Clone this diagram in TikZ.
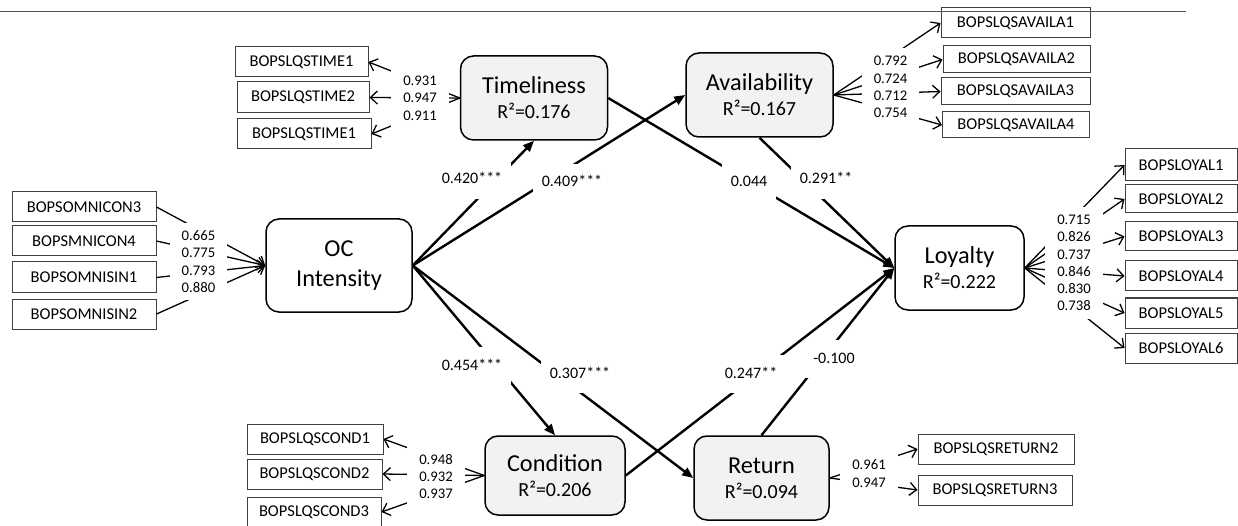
\documentclass[tikz,border=0pt]{standalone}
\usepackage{fontspec}
\setmainfont{Carlito}
\usetikzlibrary{arrows.meta}
\definecolor{latentfill}{RGB}{242,242,242}
\definecolor{boxline}{RGB}{64,64,64}
\definecolor{ruleline}{RGB}{80,80,80}
\begin{document}
\begin{tikzpicture}[x=1pt,y=-1pt,
  construct/.style={draw=black,line width=1.5pt,rounded corners=13pt,align=center,inner sep=0pt,fill=white},
  shaded/.style={fill=latentfill},
  big/.style={font=\fontsize{24.3}{25}\selectfont},
  ind/.style={draw=boxline,line width=1pt,fill=white,inner sep=0pt,minimum height=30pt,font=\fontsize{16.5}{18}\selectfont},
  pathedge/.style={line width=2.4pt,-{Triangle[length=11pt,width=9pt]}},
  loadedge/.style={line width=1.3pt,-{Straight Barb[length=7pt,width=13pt]}},
  coef/.style={fill=white,font=\fontsize{16}{18}\selectfont,text height=12pt,text depth=4pt,inner xsep=9pt,inner ysep=11pt},
  loads/.style={fill=white,align=center,font=\fontsize{14.7}{17.3}\selectfont,inner xsep=12pt,inner ysep=8pt}
]
\useasboundingbox (0,0) rectangle (1238,526);

% latent constructs
\node[construct,shaded,big,minimum width=147pt,minimum height=84pt] (T) at (534,98)
  {Timeliness\\{\fontsize{20}{25}\selectfont R²=0.176}};
\node[construct,shaded,big,minimum width=147pt,minimum height=84pt] (A) at (759.5,95)
  {Availability\\{\fontsize{20}{25}\selectfont R²=0.167}};
\node[construct,minimum width=146pt,minimum height=93pt,font=\fontsize{24.3}{30}\selectfont] (OC) at (339,265.5)
  {OC\\Intensity};
\node[construct,big,minimum width=129pt,minimum height=84pt] (L) at (959.5,268)
  {Loyalty\\{\fontsize{20}{25}\selectfont R²=0.222}};
\node[construct,shaded,big,minimum width=140pt,minimum height=79pt] (C) at (555,475.5)
  {Condition\\{\fontsize{20}{25}\selectfont R²=0.206}};
\node[construct,shaded,big,minimum width=135pt,minimum height=84pt] (R) at (761.5,478)
  {Return\\{\fontsize{20}{25}\selectfont R²=0.094}};

% indicators of Timeliness
\node[ind,minimum width=133pt] (t1) at (301.5,62) {BOPSLQSTIME1};
\node[ind,minimum width=132pt,minimum height=31pt] (t2) at (303,97.5) {BOPSLQSTIME2};
\node[ind,minimum width=134pt] (t3) at (304,134) {BOPSLQSTIME1};

% indicators of Availability
\node[ind,minimum width=149pt] (a1) at (1015.5,23) {BOPSLQSAVAILA1};
\node[ind,minimum width=147pt,minimum height=27pt] (a2) at (1016.5,59.5) {BOPSLQSAVAILA2};
\node[ind,minimum width=149pt,minimum height=27pt] (a3) at (1015.5,91.5) {BOPSLQSAVAILA3};
\node[ind,minimum width=147pt,minimum height=26pt] (a4) at (1016,125) {BOPSLQSAVAILA4};

% indicators of OC Intensity
\node[ind,minimum width=144pt] (o1) at (84,207) {BOPSOMNICON3};
\node[ind,minimum width=144pt] (o2) at (84,241) {BOPSMNICON4};
\node[ind,minimum width=144pt,minimum height=31pt] (o3) at (84,277.5) {BOPSOMNISIN1};
\node[ind,minimum width=144pt] (o4) at (84,314) {BOPSOMNISIN2};

% indicators of Loyalty
\node[ind,minimum width=112pt,minimum height=32pt] (l1) at (1181,165) {BOPSLOYAL1};
\node[ind,minimum width=112pt,minimum height=28pt] (l2) at (1181,199) {BOPSLOYAL2};
\node[ind,minimum width=112pt,minimum height=29pt] (l3) at (1181,236.5) {BOPSLOYAL3};
\node[ind,minimum width=112pt] (l4) at (1181,276) {BOPSLOYAL4};
\node[ind,minimum width=112pt] (l5) at (1181,313) {BOPSLOYAL5};
\node[ind,minimum width=112pt] (l6) at (1181,348) {BOPSLOYAL6};

% indicators of Condition
\node[ind,minimum width=136pt] (c1) at (315,439) {BOPSLQSCOND1};
\node[ind,minimum width=135pt] (c2) at (314.5,474) {BOPSLQSCOND2};
\node[ind,minimum width=134pt] (c3) at (314,512) {BOPSLQSCOND3};

% indicators of Return
\node[ind,minimum width=156pt] (r2) at (996,449) {BOPSLQSRETURN2};
\node[ind,minimum width=154pt] (r3) at (995,490) {BOPSLQSRETURN3};

% measurement model connectors
\foreach \i in {t1,t2,t3} \draw[loadedge] (T.west) -- (\i.east);
\foreach \i in {a1,a2,a3,a4} \draw[loadedge] (A.east) -- (\i.west);
\foreach \i in {o1,o2,o3,o4} \draw[loadedge] (\i.east) -- (OC.west);
\foreach \i in {l1,l2,l3,l4,l5,l6} \draw[loadedge] (L.east) -- (\i.west);
\foreach \i in {c1,c2,c3} \draw[loadedge] (C.west) -- (\i.east);
\foreach \i in {r2,r3} \draw[loadedge] (R.east) -- (\i.west);

% structural paths
\draw[pathedge] (OC.east) -- (T.south);
\draw[pathedge] (OC.east) -- (A.west);
\draw[pathedge] (OC.east) -- (C.north);
\draw[pathedge] (OC.east) -- (R.west);
\draw[pathedge] (T.east) -- (L.west);
\draw[pathedge] (A.south) -- (L.west);
\draw[pathedge] (C.east) -- (L.west);
\draw[pathedge] (R.north) -- (L.west);

% outer loadings
\node[loads] (tl) at (420,98) {0.931\\0.947\\0.911};
\node[loads] (al) at (890.5,87) {0.792\\0.724\\0.712\\0.754};
\node[loads] (ol) at (198.5,261.5) {0.665\\0.775\\0.793\\0.880};
\node[loads] (ll) at (1074,263) {0.715\\0.826\\0.737\\0.846\\0.830\\0.738};
\node[loads] (cl) at (436,476.5) {0.948\\0.932\\0.937};
\node[loads] (rl) at (869,473.5) {0.961\\0.947};

% path coefficients
\node[coef] (k1) at (472,180) {0.420***};
\node[coef] (k2) at (572,183) {0.409***};
\node[coef] (k3) at (749,183) {0.044};
\node[coef] (k4) at (826,180) {0.291**};
\node[coef] (k5) at (472,366) {0.454***};
\node[coef] (k6) at (580,374) {0.307***};
\node[coef] (k7) at (751,374) {0.247**};
\node[coef] (k8) at (834,359) {-0.100};

% rule along the top
\coordinate (ruleL) at (0,11.7);
\coordinate (ruleR) at (1186,11.7);
\draw[ruleline,line width=1.2pt] (ruleL) -- (ruleR);
\end{tikzpicture}
\end{document}
